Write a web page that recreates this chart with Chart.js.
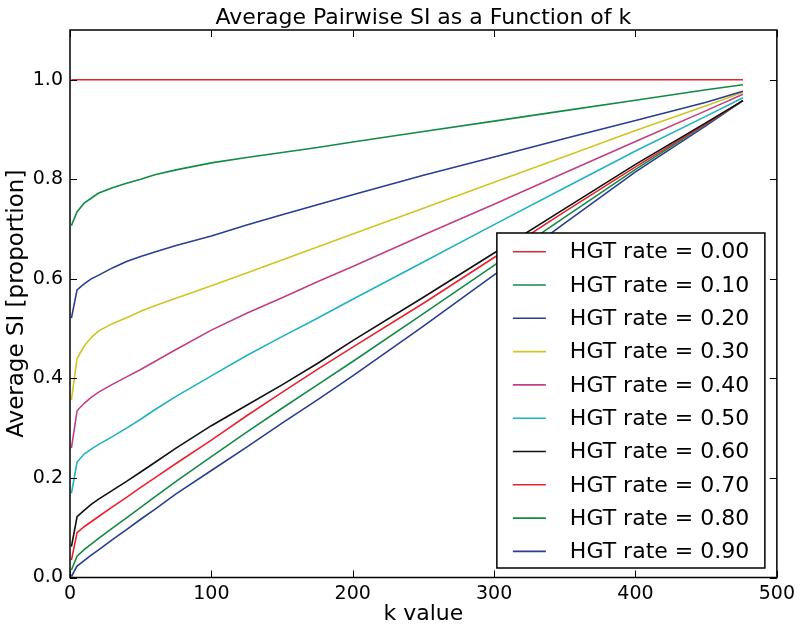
<!DOCTYPE html>
<html><head><meta charset="utf-8">
<script src="https://cdn.jsdelivr.net/npm/chart.js@4.4.1/dist/chart.umd.min.js"></script>
<style>html,body{margin:0;padding:0;background:#fff}#wrap{width:800px;height:629px}</style>
</head><body><div id="wrap"><canvas id="c" width="800" height="629"></canvas></div>
<script>
const chartTitle = "Average Pairwise SI as a Function of k";
const xTitle = "k value";
const yTitle = "Average SI [proportion]";
const xTicks = [0, 100, 200, 300, 400, 500];
const yTicks = [0.0, 0.2, 0.4, 0.6, 0.8, 1.0];
const kValues = [1, 5, 10, 15, 20, 30, 40, 50, 60, 75, 100, 125, 150, 175, 200, 250, 300, 350, 400, 450, 476];
const rate000 = [1,1,1,1,1,1,1,1,1,1,1,1,1,1,1,1,1,1,1,1,1];
const rate010 = [0.707,0.735,0.752,0.762,0.772,0.783,0.792,0.800,0.809,0.819,0.833,0.844,0.854,0.864,0.875,0.896,0.917,0.938,0.959,0.980,0.990];
const rate020 = [0.521,0.578,0.590,0.600,0.607,0.622,0.635,0.645,0.654,0.667,0.686,0.708,0.729,0.749,0.769,0.808,0.845,0.882,0.918,0.955,0.977];
const rate030 = [0.357,0.440,0.465,0.482,0.495,0.510,0.522,0.535,0.546,0.561,0.586,0.612,0.638,0.664,0.690,0.742,0.794,0.846,0.898,0.948,0.975];
const rate040 = [0.260,0.335,0.350,0.362,0.372,0.388,0.403,0.418,0.434,0.458,0.497,0.531,0.562,0.594,0.625,0.688,0.750,0.813,0.876,0.938,0.971];
const rate050 = [0.169,0.232,0.248,0.258,0.267,0.283,0.300,0.318,0.337,0.364,0.405,0.446,0.484,0.521,0.559,0.634,0.709,0.783,0.857,0.927,0.964];
const rate060 = [0.062,0.122,0.135,0.147,0.157,0.175,0.193,0.212,0.231,0.260,0.305,0.346,0.387,0.430,0.476,0.563,0.652,0.741,0.830,0.914,0.958];
const rate070 = [0.035,0.090,0.102,0.112,0.122,0.142,0.161,0.181,0.200,0.229,0.276,0.325,0.372,0.418,0.463,0.551,0.643,0.735,0.825,0.912,0.958];
const rate080 = [0.015,0.043,0.056,0.067,0.078,0.099,0.120,0.141,0.162,0.193,0.243,0.292,0.340,0.387,0.434,0.530,0.627,0.724,0.820,0.911,0.958];
const rate090 = [0.002,0.023,0.034,0.045,0.055,0.076,0.096,0.117,0.137,0.168,0.215,0.262,0.310,0.357,0.405,0.505,0.608,0.712,0.815,0.908,0.958];
const seriesLabels = ["HGT rate = 0.00","HGT rate = 0.10","HGT rate = 0.20","HGT rate = 0.30","HGT rate = 0.40","HGT rate = 0.50","HGT rate = 0.60","HGT rate = 0.70","HGT rate = 0.80","HGT rate = 0.90"];
const seriesValues = [rate000, rate010, rate020, rate030, rate040, rate050, rate060, rate070, rate080, rate090];
const seriesColors = ["#e8232e","#158a45","#2b3d92","#cfc523","#c23f83","#1fb3c2","#111111","#e8232e","#158a45","#2b3d92"];

const FONT = "'DejaVu Sans', sans-serif";

const framePlugin = {
  id: 'frame',
  afterDatasetsDraw(chart) {
    const ctx = chart.ctx, ca = chart.chartArea;
    const xs = chart.scales.x, ys = chart.scales.y;
    ctx.save();
    ctx.strokeStyle = '#000';
    ctx.lineWidth = 1.5;
    ctx.strokeRect(ca.left, ca.top, ca.right - ca.left, ca.bottom - ca.top);
    ctx.lineWidth = 1;
    const L = 7;
    ctx.beginPath();
    xTicks.forEach(v => {
      const px = Math.round(xs.getPixelForValue(v)) + 0.5;
      ctx.moveTo(px, ca.bottom); ctx.lineTo(px, ca.bottom - L);
      ctx.moveTo(px, ca.top); ctx.lineTo(px, ca.top + L);
    });
    yTicks.forEach(v => {
      const py = Math.round(ys.getPixelForValue(v)) + 0.5;
      ctx.moveTo(ca.left, py); ctx.lineTo(ca.left + L, py);
      ctx.moveTo(ca.right, py); ctx.lineTo(ca.right - L, py);
    });
    ctx.stroke();
    ctx.restore();
  },
  afterDraw(chart) {
    const ctx = chart.ctx, ca = chart.chartArea;
    ctx.save();
    // title centred over the plot area
    ctx.fillStyle = '#000';
    ctx.font = "22px " + FONT;
    ctx.textAlign = 'center';
    ctx.textBaseline = 'alphabetic';
    ctx.fillText(chartTitle, (ca.left + ca.right) / 2, ca.top - 6);
    // legend
    const boxW = 268, boxH = 335;
    const right = ca.right - 12, bottom = ca.bottom - 9.5;
    const left = right - boxW, top = bottom - boxH;
    ctx.fillStyle = '#fff';
    ctx.fillRect(left, top, boxW, boxH);
    ctx.strokeStyle = '#000';
    ctx.lineWidth = 1.5;
    ctx.strokeRect(left, top, boxW, boxH);
    ctx.font = "22px " + FONT;
    ctx.textBaseline = 'middle';
    ctx.textAlign = 'left';
    chart.data.datasets.forEach((ds, i) => {
      const cy = top + 18.7 + i * 33.3;
      ctx.strokeStyle = ds.borderColor;
      ctx.lineWidth = 1.6;
      ctx.beginPath();
      ctx.moveTo(left + 16, cy); ctx.lineTo(left + 49, cy);
      ctx.stroke();
      ctx.fillStyle = '#000';
      ctx.fillText(ds.label, left + 73, cy + 1);
    });
    ctx.restore();
  }
};

new Chart(document.getElementById('c'), {
  type: 'line',
  data: {
    datasets: seriesLabels.map((lab, i) => ({
      label: lab,
      data: kValues.map((k, j) => ({x: k, y: seriesValues[i][j]})),
      borderColor: seriesColors[i],
      backgroundColor: seriesColors[i],
      borderWidth: 1.6,
      pointRadius: 0,
      tension: 0,
      fill: false
    }))
  },
  options: {
    responsive: false,
    devicePixelRatio: 1,
    animation: false,
    layout: { padding: { left: 0, right: 20, top: 30, bottom: 0 } },
    plugins: {
      legend: { display: false },
      tooltip: { enabled: false },
      title: { display: false }
    },
    scales: {
      x: {
        type: 'linear', min: 0, max: 500,
        afterBuildTicks: s => { s.ticks = xTicks.map(v => ({value: v})); },
        afterFit: s => { s.height = 51.5; },
        grid: { display: false, drawTicks: false },
        border: { display: false },
        ticks: { color: '#000', padding: 5, font: { family: FONT, size: 19 }, callback: v => String(v) },
        title: { display: true, text: xTitle, color: '#000', font: { family: FONT, size: 22 }, padding: { top: 0, bottom: 2 } }
      },
      y: {
        type: 'linear', min: 0, max: 1.1,
        afterBuildTicks: s => { s.ticks = yTicks.map(v => ({value: v})); },
        afterFit: s => { s.width = 70; },
        grid: { display: false, drawTicks: false },
        border: { display: false },
        ticks: { color: '#000', padding: 7, font: { family: FONT, size: 19 }, callback: v => Number(v).toFixed(1) },
        title: { display: true, text: yTitle, color: '#000', font: { family: FONT, size: 23 }, padding: { top: 3, bottom: 0 } }
      }
    }
  },
  plugins: [framePlugin]
});
</script>
</body></html>
